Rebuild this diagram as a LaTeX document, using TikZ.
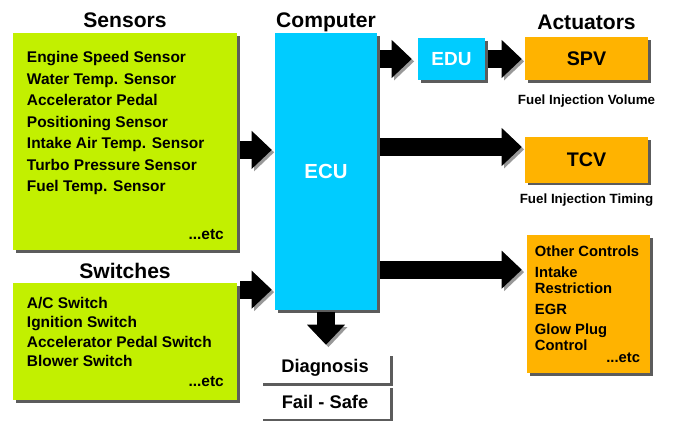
\documentclass[tikz,border=0pt]{standalone}
\usepackage{fontspec}
\setmainfont{Liberation Sans}
\usetikzlibrary{positioning, arrows.meta, shadows}
\definecolor{sensgreen}{HTML}{C2F000}
\definecolor{ecucyan}{HTML}{00CCFF}
\definecolor{actorange}{HTML}{FFB300}

\begin{document}
\begin{tikzpicture}[x=0.025cm, y=-0.025cm,
  box/.style={inner sep=0pt, drop shadow={shadow xshift=0.07cm, shadow yshift=-0.07cm, fill=black!75, opacity=0.85}},
  inbox/.style={box, fill=sensgreen, minimum width=5.6cm},
  cpubox/.style={box, fill=ecucyan, text=white, font=\bfseries\fontsize{14.5}{16}\selectfont},
  actbox/.style={box, fill=actorange, minimum width=3.075cm, font=\bfseries\fontsize{14}{16}\selectfont},
  outbox/.style={box, fill=white, minimum width=3.25cm, font=\bfseries\fontsize{13}{15}\selectfont},
  heading/.style={inner sep=0pt, text depth=0pt, font=\bfseries\fontsize{15}{17}\selectfont},
  listtext/.style={inner sep=0pt, align=left, font=\bfseries\fontsize{11}{15.3}\selectfont},
  caption/.style={inner sep=0pt, font=\bfseries\fontsize{9.5}{11}\selectfont},
  fat/.style={line width=0.45cm, -{Triangle[length=0.5cm, width=0.95cm, line width=0pt]},
    shorten <=0.075cm, shorten >=0.075cm,
    preaction={draw=black!40, transform canvas={shift={(0.06cm,-0.06cm)}}}}
]
\path[fill=white, use as bounding box] (0,0) rectangle (675,421);

% inputs
\node[inbox, minimum height=5.425cm] (sens) at (125,141.5) {};
\node[inbox, minimum height=2.925cm] (sw) at (125,341.5) {};
\node[heading, above=0.135cm of sens] (sensttl) {Sensors};
\node[heading, above=0.11cm of sw] (swttl) {Switches};
\node[listtext, below right=0.46cm and 0.35cm of sens.north west] (senslist)
  {Engine Speed Sensor\\ Water Temp. Sensor\\ Accelerator Pedal\\ Positioning Sensor\\
   Intake Air Temp. Sensor\\ Turbo Pressure Sensor\\ Fuel Temp. Sensor};
\node[listtext, above left=0.26cm and 0.33cm of sens.south east] (sensetc) {...etc};
\node[listtext, below right=0.36cm and 0.35cm of sw.north west, font=\bfseries\fontsize{11}{13.7}\selectfont] (swlist)
  {A/C Switch\\ Ignition Switch\\ Accelerator Pedal Switch\\ Blower Switch};
\node[listtext, above left=0.34cm and 0.33cm of sw.south east] (swetc) {...etc};

% computer
\node[cpubox, minimum width=2.55cm, minimum height=6.925cm] (ecu) at (326,171.5) {ECU};
\node[heading, above=0.135cm of ecu] (ecuttl) {Computer};
\node[cpubox, minimum width=1.675cm, minimum height=1.05cm, font=\bfseries\fontsize{13.5}{16}\selectfont] (edu) at (451.5,59) {EDU};
\node[outbox, minimum height=0.75cm] (diag) at (325,368) {Diagnosis};
\node[outbox, minimum height=0.825cm, below=0.05cm of diag] (fail) {Fail - Safe};

% actuators
\node[actbox, minimum height=1.075cm] (spv) at (586.5,58.5) {SPV};
\node[actbox, minimum height=1.125cm] (tcv) at (586.5,160) {TCV};
\node[actbox, minimum height=3.45cm] (oth) at (588.5,304) {};
\node[heading, above=0.185cm of spv] (actttl) {Actuators};
\node[caption, below=0.35cm of spv] (spvcap) {Fuel Injection Volume};
\node[caption, below=0.28cm of tcv] (tcvcap) {Fuel Injection Timing};
\node[listtext, below right=0.27cm and 0.2cm of oth.north west, font=\bfseries\fontsize{10.5}{11.3}\selectfont] (othlist)
  {Other Controls\\[3.5pt] Intake\\ Restriction\\[3.5pt] EGR\\[3.5pt] Glow Plug\\ Control};
\node[listtext, above left=0.25cm and 0.25cm of oth.south east, font=\bfseries\fontsize{10.5}{11.3}\selectfont] (othetc) {...etc};

% arrows
\draw[fat] ([yshift=-0.21cm]sens.east) -- ([yshift=-0.21cm]sens.east -| ecu.west);
\draw[fat] ([yshift=-0.175cm]sw.north east) -- ([yshift=-0.175cm]sw.north east -| ecu.west);
\draw[fat, shorten >=0.15cm] (ecu.east |- edu.west) -- (edu.west);
\draw[fat] (edu.east) -- (edu.east -| spv.west);
\draw[fat] ([yshift=0.325cm]tcv.west -| ecu.east) -- ([yshift=0.325cm]tcv.west);
\draw[fat, shorten >=0.125cm] ([yshift=-0.875cm]oth.north west -| ecu.east) -- ([yshift=-0.875cm]oth.north west);
\draw[fat, shorten <=0.05cm, shorten >=0.2cm] (ecu.south) -- (ecu.south |- diag.north);

\end{tikzpicture}
\end{document}
